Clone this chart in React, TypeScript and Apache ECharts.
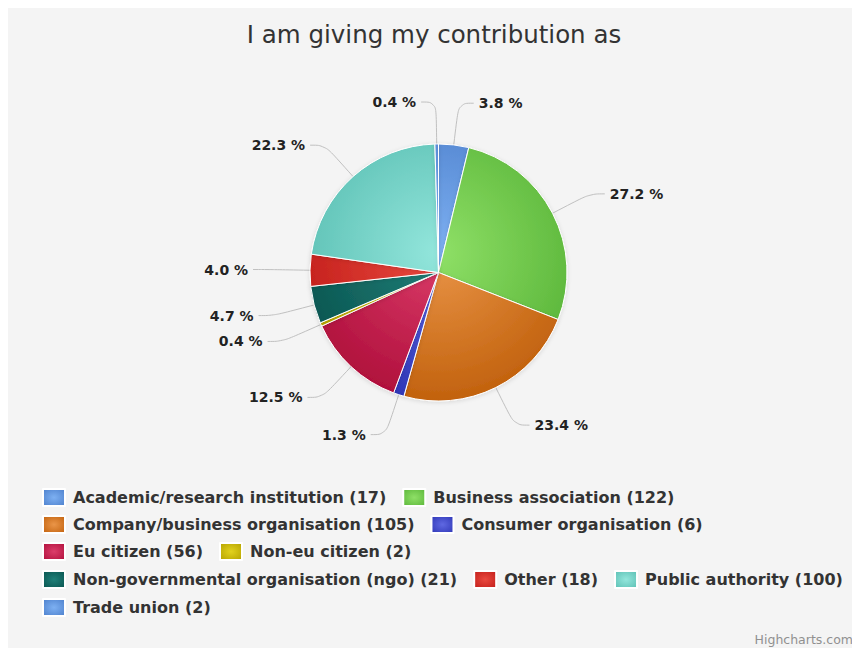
import React, { useEffect, useRef } from "react";
import * as echarts from "echarts";

const titleText = "I am giving my contribution as";
const categories = [
  "Academic/research institution",
  "Business association",
  "Company/business organisation",
  "Consumer organisation",
  "Eu citizen",
  "Non-eu citizen",
  "Non-governmental organisation (ngo)",
  "Other",
  "Public authority",
  "Trade union",
];
const counts = [17, 122, 105, 6, 56, 2, 21, 18, 100, 2];
const lightColors = ["#7db0f2", "#8fe067", "#ea9548", "#5f68e2", "#dc3d6a", "#e2d21e", "#208079", "#ea4a40", "#93e6dc", "#7db0f2"];
const darkColors = ["#4d80cc", "#5bb63a", "#c2620e", "#2f37b6", "#b0103c", "#b5a200", "#0a5550", "#c21e1a", "#5cc0b4", "#4d80cc"];
const legendRows = [
  [0, 1],
  [2, 3],
  [4, 5],
  [6, 7, 8],
  [9],
];
const creditText = "Highcharts.com";

const W = 852;
const H = 640;
const CX = 430.5;
const CY = 264.5;
const R = 128.5;
const FONT = "'DejaVu Sans', 'Noto Sans', sans-serif";

export default function App() {
  const ref = useRef<HTMLDivElement>(null);
  useEffect(() => {
    if (!ref.current) return;
    const chart = echarts.init(ref.current, null, { renderer: "svg" });
    const pieData = categories.map((name, i) => ({
      name,
      value: counts[i],
      itemStyle: {
        color: new echarts.graphic.RadialGradient(CX, CY - 20, R * 1.15, [
          { offset: 0, color: lightColors[i] },
          { offset: 1, color: darkColors[i] },
        ], true),
      },
    }));
    const legendRowTops = [480, 507, 534, 562, 590];
    const legends = legendRows.map((row, ri) => ({
      show: true,
      left: 34,
      top: legendRowTops[ri],
      orient: "horizontal",
      padding: 0,
      itemGap: 16,
      itemWidth: 22,
      itemHeight: 17,
      icon: "rect",
      selectedMode: false,
      textStyle: { fontFamily: FONT, fontSize: 16, fontWeight: "bold", color: "#333", padding: [0, 0, 0, 3] },
      formatter: (name: string) => `${name} (${counts[categories.indexOf(name)]})`,
      data: row.map((i) => ({
        name: categories[i],
        itemStyle: {
          color: new echarts.graphic.RadialGradient(0.5, 0.5, 0.7, [
            { offset: 0, color: lightColors[i] },
            { offset: 1, color: darkColors[i] },
          ]),
        },
      })),
    }));
    chart.setOption({
      animation: false,
      backgroundColor: "#f4f4f4",
      title: {
        text: titleText,
        left: "center",
        top: 9,
        textStyle: { fontFamily: FONT, fontSize: 24.5, fontWeight: "normal", color: "#333" },
      },
      legend: legends,
      graphic: [
        {
          type: "text",
          right: 7,
          bottom: 2,
          style: { text: creditText, fontFamily: FONT, fontSize: 12.5, fill: "#909090" },
        },
      ],
      series: [
        {
          type: "pie",
          center: [CX, CY],
          radius: R,
          startAngle: 90,
          clockwise: true,
          percentPrecision: 1,
          avoidLabelOverlap: true,
          minShowLabelAngle: 0,
          itemStyle: {
            borderColor: "#ffffff",
            borderWidth: 1,
            shadowBlur: 4,
            shadowColor: "rgba(0,0,0,0.12)",
            shadowOffsetY: 1,
          },
          label: {
            show: true,
            position: "outside",
            formatter: (p: any) => `${Number(p.percent).toFixed(1)} %`,
            fontFamily: FONT,
            fontSize: 14,
            fontWeight: "bold",
            color: "#222",
          },
          labelLine: {
            show: true,
            length: 42,
            length2: 15,
            smooth: 0.4,
            lineStyle: { color: "#c0c0c0", width: 1 },
          },
          emphasis: { disabled: true },
          data: pieData,
        },
      ],
    });
    return () => chart.dispose();
  }, []);
  return <div ref={ref} style={{ width: W, height: H }} />;
}
